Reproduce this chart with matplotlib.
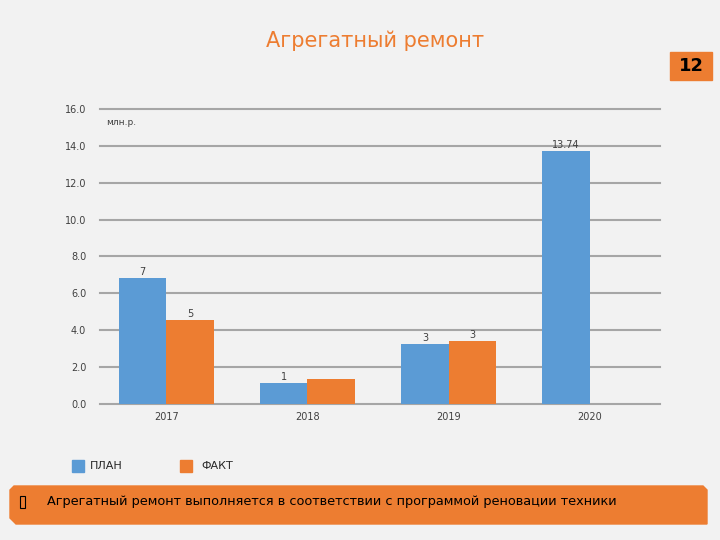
import numpy as np
import matplotlib.pyplot as plt
from matplotlib.patches import Rectangle, Polygon

# ---- data ----
years = ['2017', '2018', '2019', '2020']
plan = [6.83, 1.14, 3.27, 13.74]
fact = [4.55, 1.36, 3.42, 0.0]
plan_labels = ['7', '1', '3', '13.74']
fact_labels = ['5', '', '3', '']

bg = '#f2f2f2'
blue = '#5b9bd5'
orange = '#ed7d31'

plt.rcParams['font.family'] = ['DejaVu Sans']

fig = plt.figure(figsize=(7.2, 5.4), dpi=100)
fig.patch.set_facecolor(bg)

ax = fig.add_axes([0.139, 0.252, 0.778, 0.546])
ax.set_facecolor(bg)

x = np.arange(len(years))
w = 0.335
b1 = ax.bar(x - w / 2, plan, w, color=blue, zorder=3)
b2 = ax.bar(x + w / 2, [v if v > 0 else np.nan for v in fact], w, color=orange, zorder=3)

for rect, lab in zip(b1, plan_labels):
    ax.text(rect.get_x() + rect.get_width() / 2, rect.get_height() + 0.05, lab,
            ha='center', va='bottom', fontsize=7, color='#404040', zorder=4)
for rect, lab in zip(b2, fact_labels):
    if lab:
        ax.text(rect.get_x() + rect.get_width() / 2, rect.get_height() + 0.05, lab,
                ha='center', va='bottom', fontsize=7, color='#404040', zorder=4)

ax.set_xlim(-0.47, 3.5)
ax.set_ylim(0, 16)
ax.set_yticks(np.arange(0, 16.1, 2))
ax.set_yticklabels(['%.1f' % v for v in np.arange(0, 16.1, 2)])
ax.set_xticks(x)
ax.set_xticklabels(years)
ax.tick_params(length=0, labelsize=7, colors='#404040')
ax.tick_params(axis='x', pad=6)
ax.tick_params(axis='y', pad=10)
ax.yaxis.grid(True, color='#a6a6a6', linewidth=1.5, zorder=0)
for gl in ax.get_ygridlines():
    gl.set_clip_on(False)
for s in ax.spines.values():
    s.set_visible(False)
ax.text(0.01, 0.955, 'млн.р.', transform=ax.transAxes, fontsize=6.5,
        color='#404040', va='center')

# title
fig.text(0.521, 0.925, 'Агрегатный ремонт', ha='center', va='center',
         fontsize=15, color=orange)

# page number
fig.patches.append(Rectangle((670 / 720, 1 - 80 / 540), 42 / 720, 28 / 540,
                             transform=fig.transFigure, color=orange))
fig.text(691 / 720, 1 - 66 / 540, '12', ha='center', va='center',
         fontsize=13, fontweight='bold', color='black')

# legend
fig.patches.append(Rectangle((72 / 720, 1 - 472 / 540), 12 / 720, 12 / 540,
                             transform=fig.transFigure, color=blue))
fig.text(90 / 720, 1 - 466 / 540, 'ПЛАН', va='center', fontsize=8, color='#262626')
fig.patches.append(Rectangle((180 / 720, 1 - 472 / 540), 12 / 720, 12 / 540,
                             transform=fig.transFigure, color=orange))
fig.text(201 / 720, 1 - 466 / 540, 'ФАКТ', va='center', fontsize=8, color='#262626')

# bottom banner
pts = [(10, 490), (14, 486), (703, 486), (707, 490), (707, 524), (16, 524), (10, 518)]
fig.patches.append(Polygon([(px / 720, 1 - py / 540) for px, py in pts],
                           closed=True, transform=fig.transFigure, color=orange))
fig.patches.append(Rectangle((20 / 720, 1 - 508 / 540), 5 / 720, 12 / 540,
                             transform=fig.transFigure, fill=False,
                             edgecolor='black', linewidth=0.8))
fig.text(47 / 720, 1 - 502 / 540,
         'Агрегатный ремонт выполняется в соответствии с программой реновации техники',
         va='center', fontsize=9.3, color='black')

fig.savefig('out.png', dpi=100, facecolor=bg)
